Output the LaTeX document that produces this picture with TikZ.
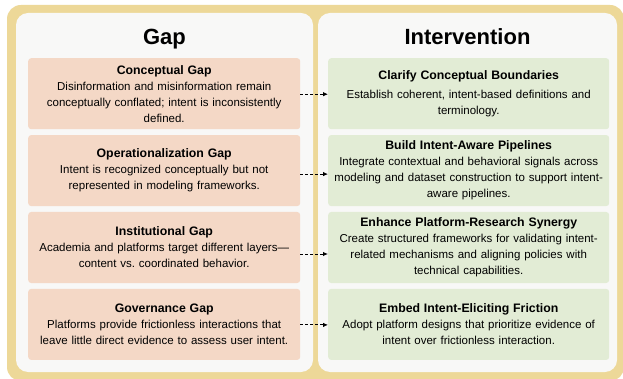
\documentclass[tikz,border=0pt]{standalone}
\usepackage{fontspec}
\setmainfont{Liberation Sans}
\usepackage{tikz}
\usetikzlibrary{arrows.meta,positioning}
\definecolor{framegold}{HTML}{EDD898}
\definecolor{panelgrey}{HTML}{F8F8F7}
\definecolor{gapfill}{HTML}{F4D8C6}
\definecolor{fixfill}{HTML}{E2ECD5}

\begin{document}
\begin{tikzpicture}
[x=1pt, y=1pt, font=\fontsize{11.5}{16}\selectfont,
% STYLES
% The panel style is used for the two grey columns
panel/.style={fill=panelgrey, rounded corners=12pt},
% The heading style is used for the column titles
heading/.style={font=\fontsize{22}{26}\selectfont\bfseries, anchor=base},
% The gap style is used to draw the gaps
gap/.style={rectangle, rounded corners=3pt, fill=gapfill, inner sep=0pt, text width=272pt, minimum height=71pt, align=center, node distance=5.5pt},
% The fix style is used to draw the interventions
fix/.style={gap, fill=fixfill, text width=281pt},
% The link style is used for the dashed arrows
link/.style={color=black, line width=0.9pt, dash pattern=on 3pt off 2pt, -{Latex[length=5pt, width=4.5pt]}}]

\newcommand{\boxtitle}[1]{{\fontsize{12.3}{16}\selectfont\bfseries #1}}

\useasboundingbox (0,0) rectangle (623,-379);
\fill[white] (0,0) rectangle (623,-379);
\fill[framegold, rounded corners=14pt] (7,-5) rectangle (624,-381);

% Draw columns
\path[panel] (16,-13) rectangle (313,-372);
\path[panel] (318,-13) rectangle (617,-372);
\node [heading] (gaphead) at (164.5,-45) {Gap};
\node [heading] (fixhead) at (467.5,-45) {Intervention};

%%%%%%%%%%%%%%%
% Gaps
\node [gap, anchor=north west] (g1) at (28,-58) {\boxtitle{Conceptual Gap}\\
Disinformation and misinformation remain\\
conceptually conflated; intent is inconsistently\\
defined.};
\node [gap, below=of g1] (g2) {\boxtitle{Operationalization Gap}\\
Intent is recognized conceptually but not\\
represented in modeling frameworks.};
\node [gap, below=of g2] (g3) {\boxtitle{Institutional Gap}\\
Academia and platforms target different layers---\\
content vs.\ coordinated behavior.};
\node [gap, below=of g3] (g4) {\boxtitle{Governance Gap}\\
Platforms provide frictionless interactions that\\
leave little direct evidence to assess user intent.};

% Interventions
\node [fix, anchor=north west] (i1) at (328,-58) {\boxtitle{Clarify Conceptual Boundaries}\\[3pt]
Establish coherent, intent-based definitions and\\
terminology.};
\node [fix, below=of i1] (i2) {\boxtitle{Build Intent-Aware Pipelines}\\
Integrate contextual and behavioral signals across\\
modeling and dataset construction to support intent-\\
aware pipelines.};
\node [fix, below=of i2] (i3) {\boxtitle{Enhance Platform-Research Synergy}\\
Create structured frameworks for validating intent-\\
related mechanisms and aligning policies with\\
technical capabilities.};
\node [fix, below=of i3] (i4) {\boxtitle{Embed Intent-Eliciting Friction}\\
Adopt platform designs that prioritize evidence of\\
intent over frictionless interaction.};
%%%%%%%%%%%%%%%

% Draw the links between gaps and interventions
\path[link]
([yshift=-0.5pt]g1.east) edge ([yshift=-0.5pt]i1.west)
([yshift=-3.5pt]g2.east) edge ([yshift=-3.5pt]i2.west)
([yshift=-6.5pt]g3.east) edge ([yshift=-6.5pt]i3.west)
([yshift=-0.5pt]g4.east) edge ([yshift=-0.5pt]i4.west);

\end{tikzpicture}
\end{document}
